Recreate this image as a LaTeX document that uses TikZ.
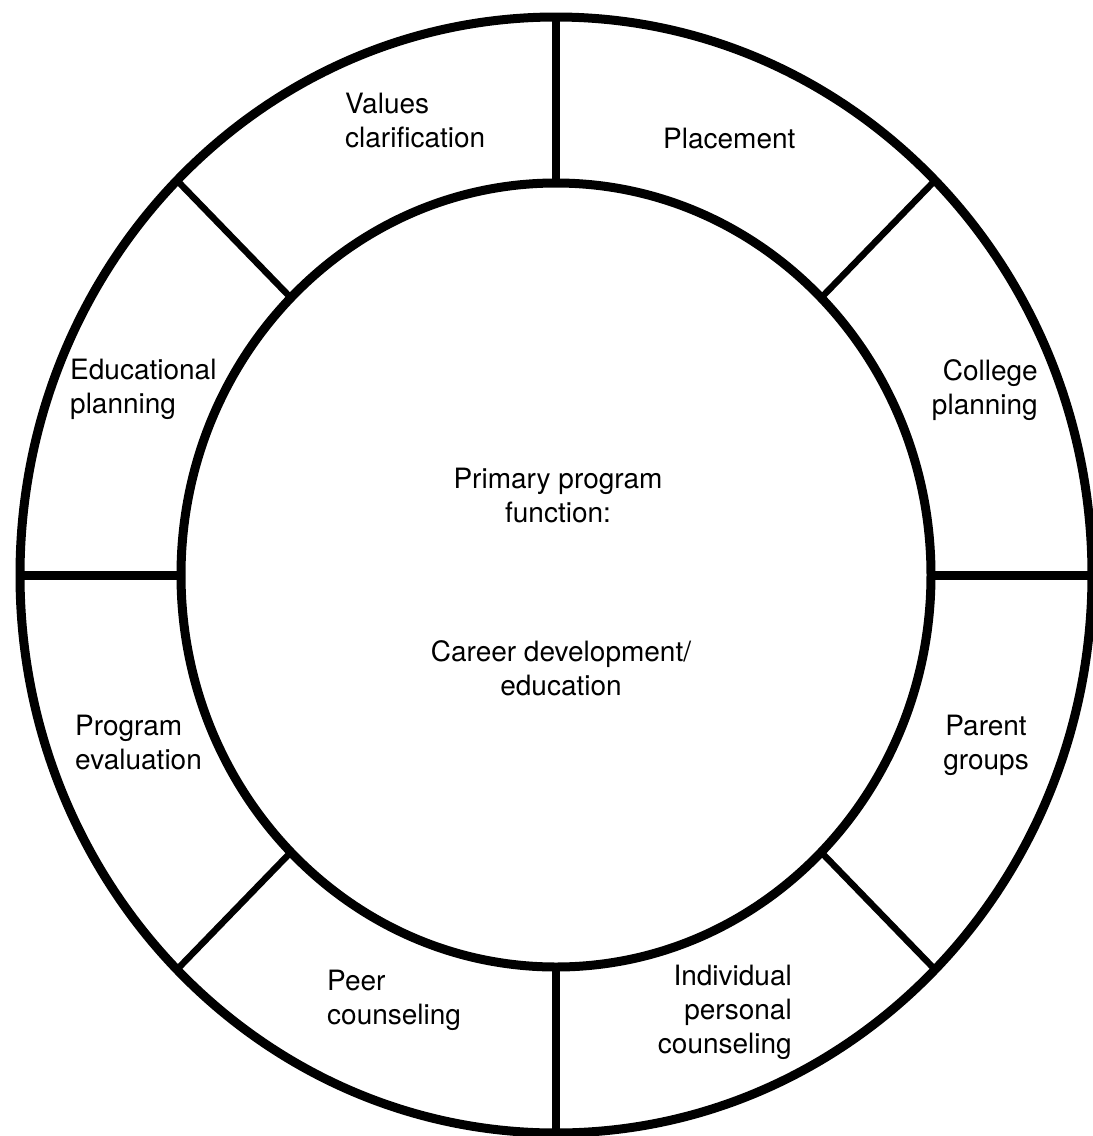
\documentclass[tikz,border=0pt]{standalone}
\usepackage{fontspec}
\setmainfont{TeX Gyre Heros}
\begin{document}
\begin{tikzpicture}[x=1pt, y=-1pt,
    ring/.style={line width=9pt},
    txt/.style={inner sep=0pt, font=\fontsize{28}{34}\selectfont}]
        \useasboundingbox (0,0) rectangle (1093,1136);
        \coordinate (c) at (556,575);

        % Outer and inner rings
        \draw[ring] (c) ellipse [x radius=536pt, y radius=558pt];
        \draw[ring] (c) ellipse [x radius=375pt, y radius=392pt];

        % Spokes between the rings
        \foreach \a/\w in {0/9, 45/6.5, 90/7.5, 135/6.5, 180/9, 225/6.5, 270/7.5, 315/6.5} {
            \path (c) ++(\a:375 and 392) coordinate (i\a);
            \path (c) ++(\a:536 and 558) coordinate (o\a);
            \draw[line width=\w pt] (i\a) -- (o\a);
        }

        % Sector labels
        \node[txt, anchor=north west, align=left] (vals) at (345,93) {Values\\clarification};
        \node[txt, anchor=base west] (place) at (663,148) {Placement};
        \node[txt, anchor=north west, align=left] (edu) at (70,359) {Educational\\planning};
        \node[txt, anchor=north east, align=right] (coll) at (1038,359) {College\\planning};
        \node[txt, anchor=north west, align=left] (eval) at (75,715) {Program\\evaluation};
        \node[txt, anchor=north, align=center] (parent) at (986,715) {Parent\\groups};
        \node[txt, anchor=north west, align=left] (peer) at (327,970) {Peer\\counseling};
        \node[txt, anchor=north east, align=right] (indiv) at (792,965) {Individual\\personal\\counseling};

        % Centre
        \node[txt, anchor=north, align=center] (prim) at (558,468) {Primary program\\function:};
        \node[txt, anchor=north, align=center] (career) at (561,640) {Career development/\\education};
    \end{tikzpicture}
\end{document}
